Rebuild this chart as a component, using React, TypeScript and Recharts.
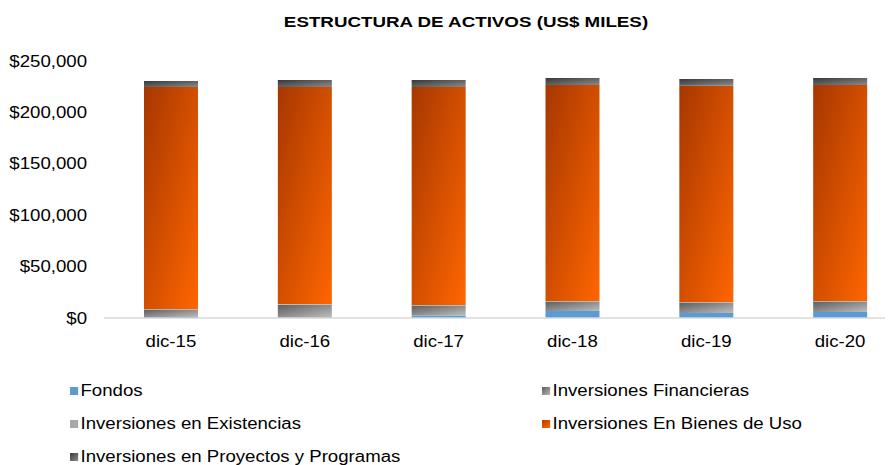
import React from 'react';
import { BarChart, Bar, XAxis, YAxis } from 'recharts';

const categories = ['dic-15', 'dic-16', 'dic-17', 'dic-18', 'dic-19', 'dic-20'];
const fondos = [1000, 800, 2500, 6800, 4900, 5800];
const inversionesFinancieras = [7200, 12000, 9600, 9200, 10200, 10200];
const inversionesExistencias = [500, 800, 500, 500, 500, 500];
const inversionesBienesUso = [216000, 211100, 212100, 210200, 210400, 210200];
const inversionesProyectos = [5800, 6800, 6800, 6800, 6500, 6800];
const yTicks = [0, 50000, 100000, 150000, 200000, 250000];

const data = categories.map((c, i) => ({
  cat: c,
  fondos: fondos[i],
  financieras: inversionesFinancieras[i],
  existencias: inversionesExistencias[i],
  bienes: inversionesBienesUso[i],
  proyectos: inversionesProyectos[i],
}));

const series = [
  { key: 'fondos', name: 'Fondos', fill: '#5b9bd5', css: '#5b9bd5' },
  { key: 'financieras', name: 'Inversiones Financieras', fill: 'url(#gFin)', css: 'linear-gradient(135deg,#5e5e5e,#b8b8b8)' },
  { key: 'existencias', name: 'Inversiones en Existencias', fill: '#b2b2b2', css: '#a8a8a8' },
  { key: 'bienes', name: 'Inversiones En Bienes de Uso', fill: 'url(#gBienes)', css: 'linear-gradient(135deg,#b03c00,#ff6600)' },
  { key: 'proyectos', name: 'Inversiones en Proyectos y Programas', fill: 'url(#gProy)', css: 'linear-gradient(135deg,#3a3a3a,#8a8a8a)' },
];

const legendLayout = [
  { left: 62, top: 374 },
  { left: 534, top: 374 },
  { left: 62, top: 407 },
  { left: 534, top: 407 },
  { left: 62, top: 440 },
];

const FONT = '"Liberation Sans", Arial, sans-serif';
const SX = 1.164;
const fmt = (v: number) => '$' + v.toLocaleString('en-US');

const XTick = (props: any) => {
  const { x, y, payload } = props;
  return (
    <g transform={`translate(${x},${y})`}>
      <text transform={`scale(${SX},1)`} textAnchor="middle" dy="0.71em" fill="#000" fontSize={16} fontFamily={FONT}>
        {payload.value}
      </text>
    </g>
  );
};

const YTick = (props: any) => {
  const { x, y, payload } = props;
  return (
    <g transform={`translate(${x},${y})`}>
      <text transform={`scale(${SX},1)`} textAnchor="end" dy="0.355em" fill="#000" fontSize={16} fontFamily={FONT}>
        {fmt(payload.value)}
      </text>
    </g>
  );
};

export default function App() {
  return (
    <div style={{ position: 'relative', width: 885, height: 457, overflow: 'hidden', fontFamily: FONT, background: '#fff' }}>
      <div style={{ position: 'absolute', left: 457.5, top: 5, fontWeight: 'bold', fontSize: 15, lineHeight: '18px', color: '#000', whiteSpace: 'nowrap', transform: 'translateX(-50%) scaleX(1.25)' }}>
        ESTRUCTURA DE ACTIVOS (US$ MILES)
      </div>
      <div style={{ position: 'absolute', left: 0, top: 0 }}>
        <BarChart width={910} height={457} data={data} margin={{ top: 53, right: 11, bottom: 117, left: 0 }} barSize={54}>
          <defs>
            <linearGradient id="gBienes" x1="0" y1="0" x2="1" y2="1">
              <stop offset="0%" stopColor="#a63700" />
              <stop offset="100%" stopColor="#ff6600" />
            </linearGradient>
            <linearGradient id="gFin" x1="0" y1="0" x2="1" y2="1">
              <stop offset="0%" stopColor="#5e5e5e" />
              <stop offset="100%" stopColor="#bcbcbc" />
            </linearGradient>
            <linearGradient id="gProy" x1="0" y1="0" x2="1" y2="1">
              <stop offset="0%" stopColor="#383838" />
              <stop offset="100%" stopColor="#8a8a8a" />
            </linearGradient>
          </defs>
          <XAxis
            dataKey="cat"
            axisLine={{ stroke: '#d9d9d9', strokeWidth: 1.5 }}
            tickLine={false}
            tickSize={0}
            tickMargin={18}
            height={30}
            tick={<XTick />}
          />
          <YAxis
            width={96}
            domain={[0, 250000]}
            ticks={yTicks}
            axisLine={false}
            tickLine={false}
            tickSize={0}
            tickMargin={17}
            tick={<YTick />}
          />
          {series.map((s) => (
            <Bar key={s.key} dataKey={s.key} name={s.name} stackId="a" fill={s.fill} isAnimationActive={false} />
          ))}
        </BarChart>
      </div>
      {series.map((s, i) => (
        <div key={s.key} style={{ position: 'absolute', left: legendLayout[i].left, top: legendLayout[i].top, display: 'flex', alignItems: 'center', fontSize: 16, lineHeight: '18px', color: '#000', whiteSpace: 'nowrap', transform: `scaleX(${SX})`, transformOrigin: 'left center' }}>
          <span style={{ display: 'inline-block', width: 7, height: 8, background: s.css, marginRight: 2 }} />
          <span>{s.name}</span>
        </div>
      ))}
    </div>
  );
}
